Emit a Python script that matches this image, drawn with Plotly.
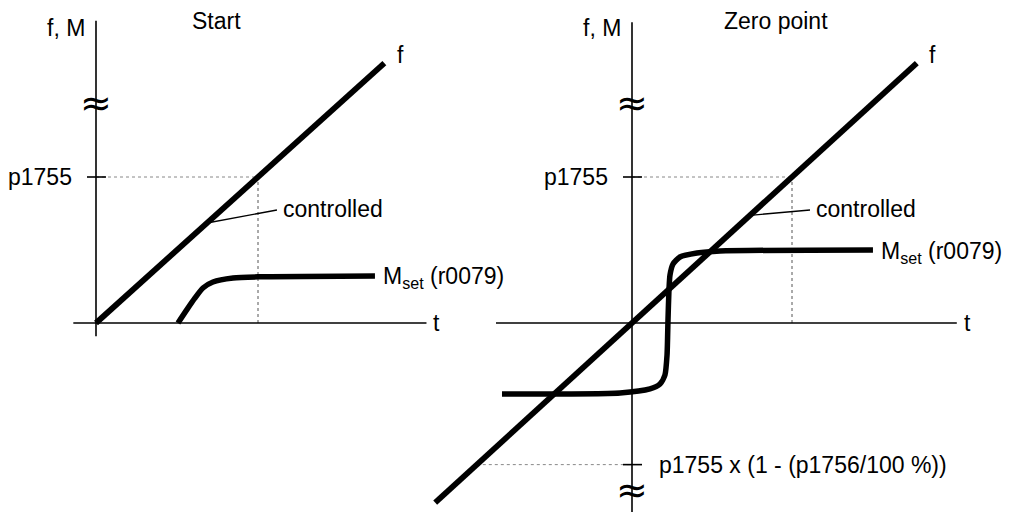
import plotly.graph_objects as go

# ---------------- data (units: f, M normalised so p1755 = 1) ----------------
P1755 = 1.0
LOWER_LIMIT = -0.97          # p1755 x (1 - (p1756/100 %))

# Left panel "Start"
start_f_t = [0.0, 1.78]
start_f = [0.0, 1.78]
start_m_t = [0.506, 0.560, 0.610, 0.660, 0.722, 0.846, 1.0, 1.722]
start_m = [0.0, 0.090, 0.170, 0.240, 0.281, 0.308, 0.316, 0.322]
start_ctrl_t = [0.685, 1.117]
start_ctrl_v = [0.685, 0.774]

# Right panel "Zero point"
zero_f_t = [-1.23, 1.78]
zero_f = [-1.23, 1.78]
zero_m_t = [-0.8125, -0.075, 0.1125, 0.175, 0.206, 0.219, 0.225, 0.231, 0.2375, 0.256, 0.30, 0.406, 0.55, 1.506]
zero_m = [-0.486, -0.479, -0.452, -0.418, -0.356, -0.219, 0.02, 0.226, 0.329, 0.404, 0.452, 0.479, 0.493, 0.50]
zero_ctrl_t = [0.7375, 1.1125]
zero_ctrl_v = [0.7375, 0.774]

# ---------------- figure ----------------
FONT = "Liberation Sans, Arial, sans-serif"
FS = 23
fig = go.Figure()

def add_line(xs, ys, ax, width, color="black", dash="solid"):
    xa, ya = ("x", "y") if ax == 1 else ("x2", "y2")
    fig.add_trace(go.Scatter(x=xs, y=ys, xaxis=xa, yaxis=ya, mode="lines",
                             line=dict(color=color, width=width, dash=dash, shape="spline", smoothing=0.6),
                             hoverinfo="skip", showlegend=False))

# guide lines (dotted)
GUIDE = "#888888"
add_line([0, P1755], [P1755, P1755], 1, 1, GUIDE, "dot")
add_line([P1755, P1755], [0, P1755], 1, 1, "#555555", "dot")
add_line([0, P1755], [P1755, P1755], 2, 1, GUIDE, "dot")
add_line([P1755, P1755], [0, P1755], 2, 1, "#555555", "dot")
add_line([LOWER_LIMIT, 0], [LOWER_LIMIT, LOWER_LIMIT], 2, 1, GUIDE, "dot")

# axes drawn as lines
add_line([0, 0], [-0.09, 2.07], 1, 1.6)
add_line([-0.14, 2.04], [0, 0], 1, 1.6)
add_line([0, 0], [-1.35, 2.06], 2, 1.6)
add_line([-0.85, 2.03], [0, 0], 2, 1.6)

# leader lines
add_line(start_ctrl_t, start_ctrl_v, 1, 1.3)
add_line(zero_ctrl_t, zero_ctrl_v, 2, 1.3)

# main curves
add_line(start_f_t, start_f, 1, 5.8)
add_line(start_m_t, start_m, 1, 5.5)
add_line(zero_f_t, zero_f, 2, 5.8)
add_line(zero_m_t, zero_m, 2, 5.5)

# ticks (pixel-sized around axis)
for xr, yr_, yv in [("x", "y", P1755), ("x2", "y2", P1755), ("x2", "y2", LOWER_LIMIT)]:
    fig.add_shape(type="line", xref=xr, yref=yr_, xsizemode="pixel", xanchor=0,
                  x0=-9, x1=10, y0=yv, y1=yv, line=dict(color="black", width=1.6))

def ann(text, x, y, ax, xanchor="center", xshift=0, yshift=0, size=FS, family=FONT):
    xr, yr_ = ("x", "y") if ax == 1 else ("x2", "y2")
    fig.add_annotation(text=text, x=x, y=y, xref=xr, yref=yr_, showarrow=False,
                       xanchor=xanchor, yanchor="middle", xshift=xshift, yshift=yshift,
                       font=dict(family=family, size=size, color="black"))

BREAK_FONT = "DejaVu Sans, sans-serif"
for ax in (1, 2):
    ann("f, M", 0, 2.02, ax, "right", -9)
    ann("p1755", 0, P1755, ax, "right", -22)
    ann("≈", 0, 1.507, ax, "center", 0, 0, 38, BREAK_FONT)
ann("≈", 0, -1.144, 2, "center", 0, 0, 38, BREAK_FONT)

ann("Start", 0.744, 2.07, 1)
ann("Zero point", 0.9, 2.07, 2)
ann("f", 1.877, 1.836, 1)
ann("f", 1.875, 1.836, 2)
ann("controlled", start_ctrl_t[1], start_ctrl_v[1], 1, "left", 4, 1)
ann("controlled", zero_ctrl_t[1], zero_ctrl_v[1], 2, "left", 4, 1)
ann("M<sub>set</sub> (r0079)", start_m_t[-1], start_m[-1], 1, "left", 6, -2)
ann("M<sub>set</sub> (r0079)", zero_m_t[-1], zero_m[-1], 2, "left", 6, -2)
ann("t", 2.04, 0, 1, "left", 5)
ann("t", 2.03, 0, 2, "left", 5)
ann("p1755 x (1 - (p1756/100 %))", 0, LOWER_LIMIT, 2, "left", 25)

# page has an 8px body margin: figure pixel p sits at page pixel p + 8
OFF = 8
PW, PH = 1011, 512
W, H = PW - OFF, PH - OFF
# page scale: left origin (96,323) with 162 px per t-unit; right origin (632,323) with 160 px; 146 px per f-unit
yr = [(323 - PH) / 146, (323 - OFF) / 146]
hidden = dict(visible=False, showgrid=False, zeroline=False, domain=[0, 1])
fig.update_layout(
    width=W, height=H, margin=dict(l=0, r=0, t=0, b=0),
    paper_bgcolor="white", plot_bgcolor="rgba(0,0,0,0)", showlegend=False,
    xaxis=dict(hidden, range=[(OFF - 96) / 162, (PW - 96) / 162], anchor="y"),
    yaxis=dict(hidden, range=yr, anchor="x"),
    xaxis2=dict(hidden, range=[(OFF - 632) / 160, (PW - 632) / 160], anchor="y2"),
    yaxis2=dict(hidden, range=yr, anchor="x2"),
)
fig.write_html("out.html")
